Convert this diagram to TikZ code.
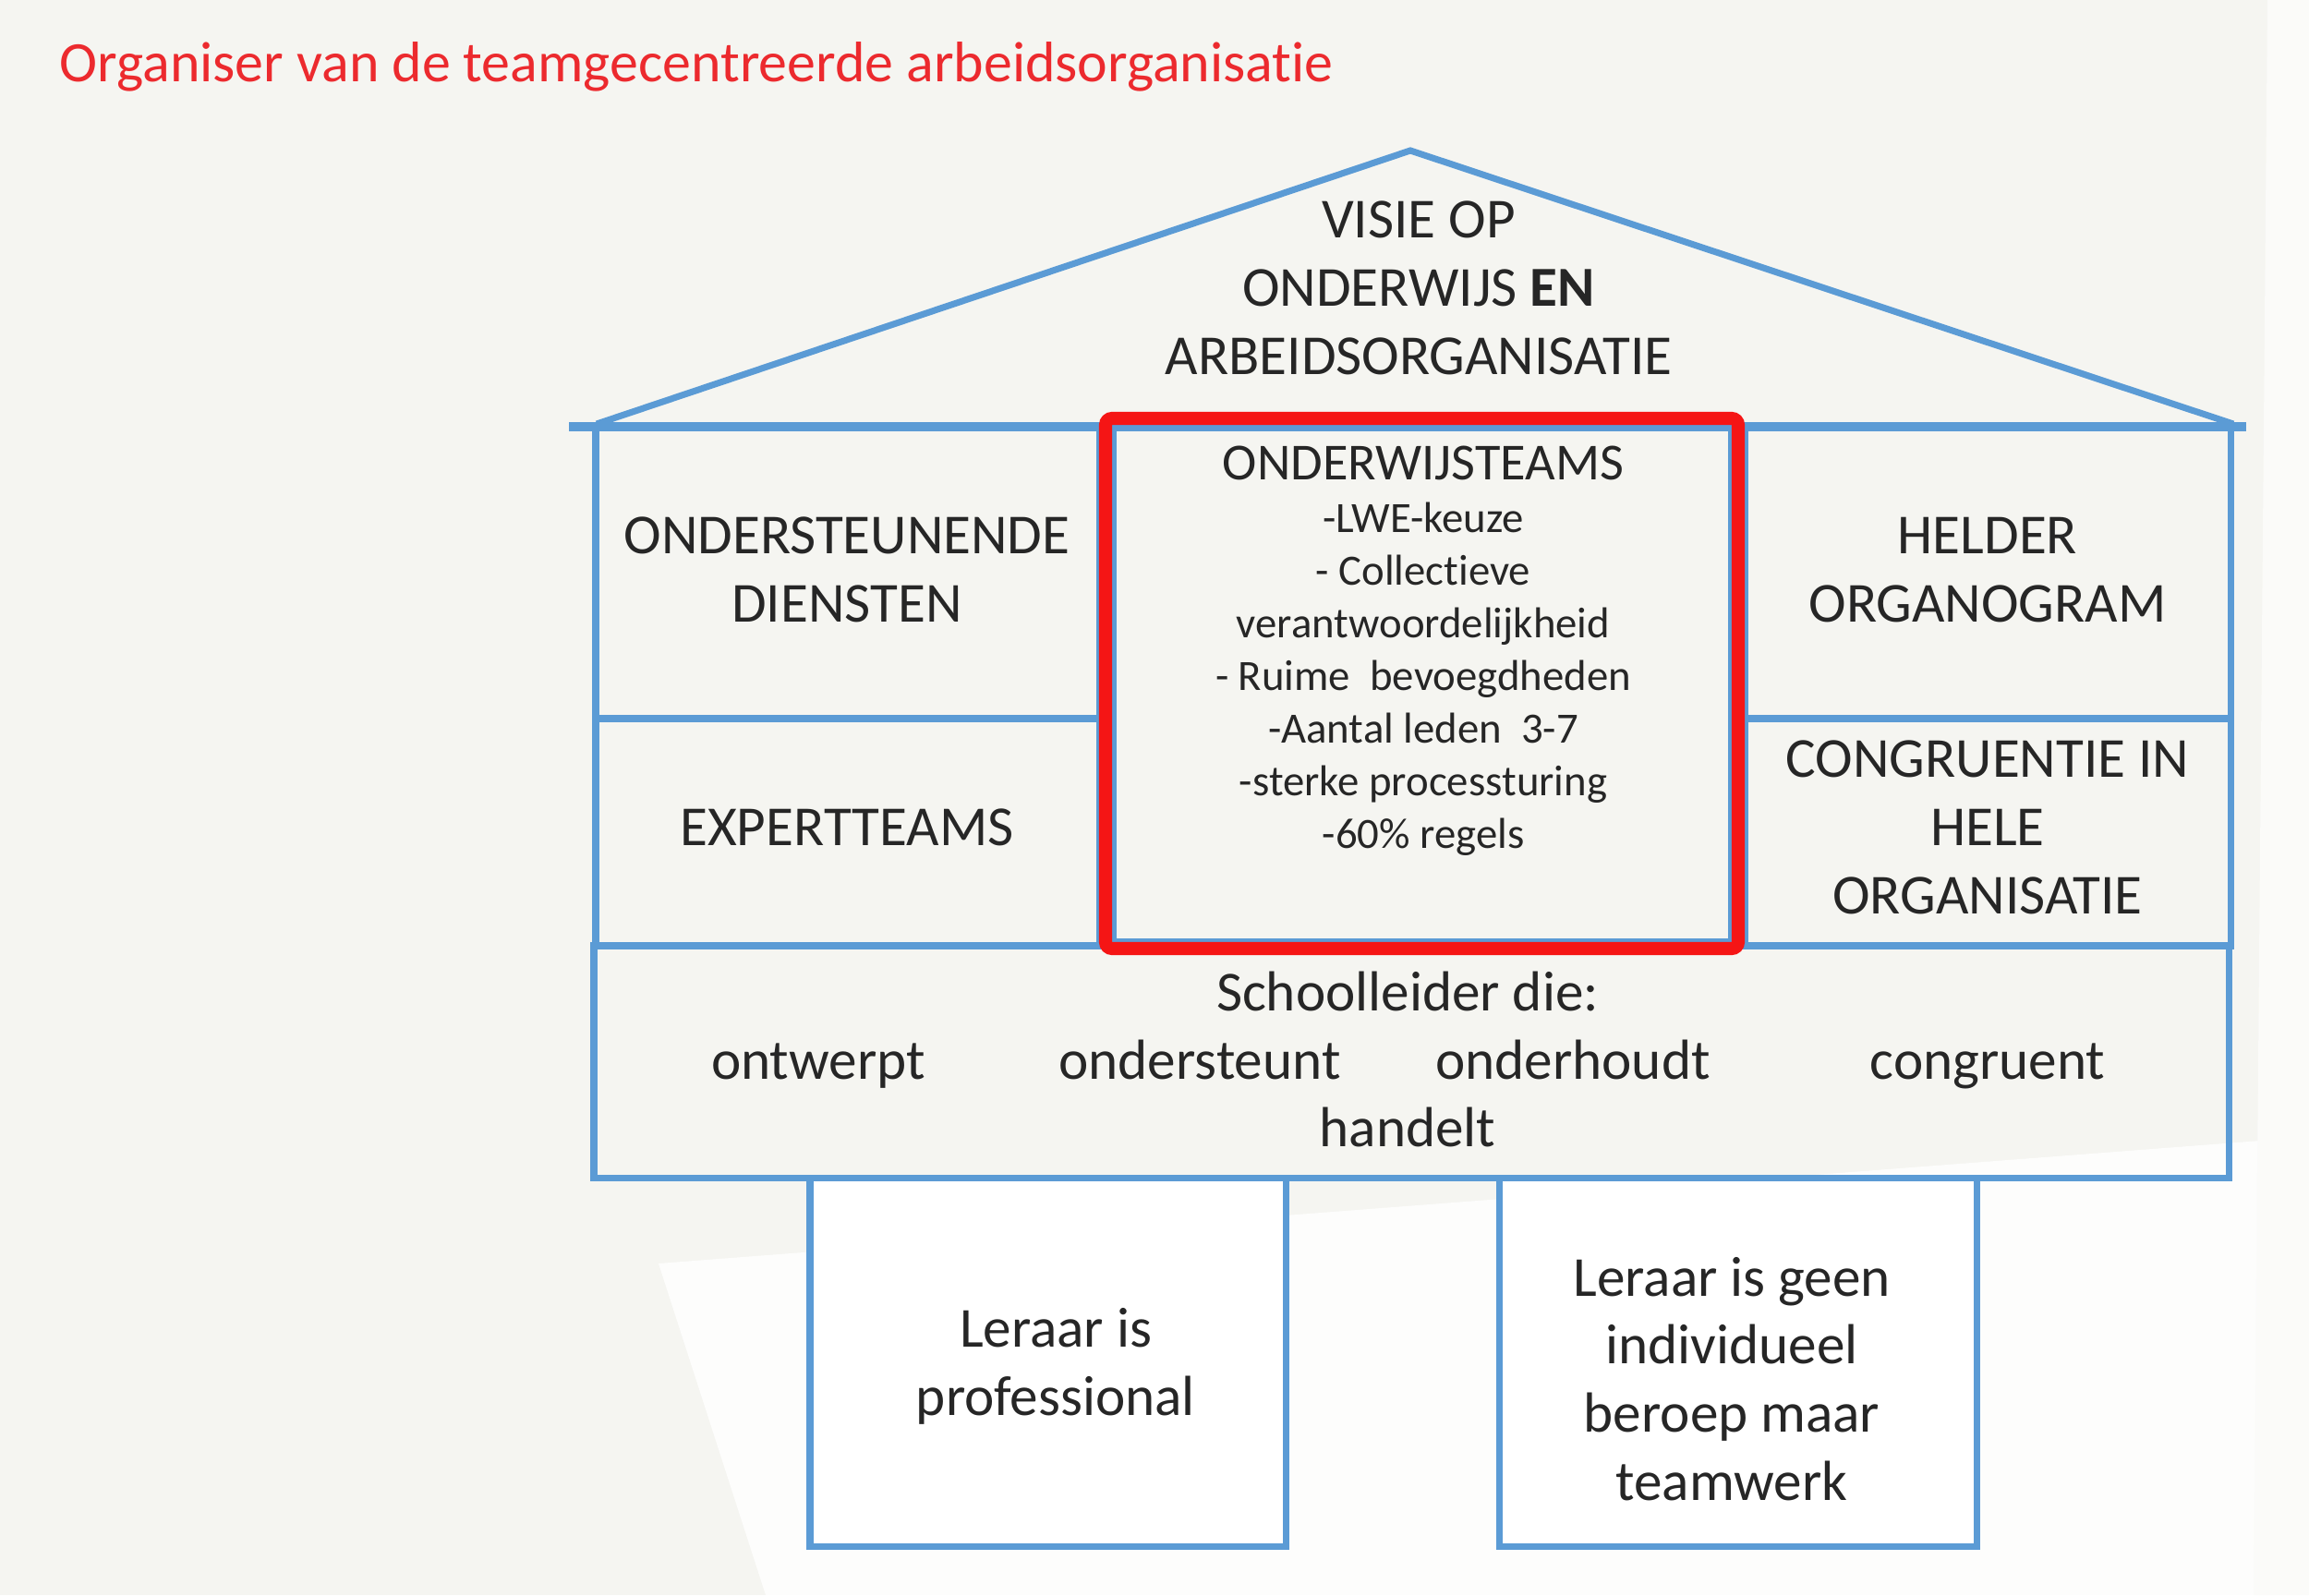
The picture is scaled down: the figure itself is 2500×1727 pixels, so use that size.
\documentclass[tikz,border=0pt]{standalone}
\usepackage{fontspec}
\setmainfont{Carlito}[Ligatures=NoCommon]
\definecolor{houseblue}{HTML}{5B9BD5}
\definecolor{boxred}{HTML}{F51515}
\definecolor{titlered}{HTML}{EC2A2E}
\definecolor{textgrey}{HTML}{262626}
\definecolor{paper}{HTML}{F5F5F1}

\begin{document}
\begin{tikzpicture}[x=0.01cm,y=-0.01cm,
	wall/.style={draw=houseblue,line width=2pt},
	lbl/.style={align=center,text=textgrey,inner sep=0pt,font=\fontsize{17.4}{21}\selectfont},
	lst/.style={lbl,font=\fontsize{13.3}{16.2}\selectfont}]
	\fill[paper] (0,0) rectangle (2500,1727);
	\useasboundingbox (0,0) rectangle (2500,1727);
	\fill[white!80!paper] (713,1368) -- (2500,1231) -- (2500,1727) -- (829,1727) -- cycle;
	\fill[white!60!paper] (2455,0) -- (2500,0) -- (2500,1727) -- (2440,1727) -- cycle;
	% title
	\node[anchor = base west,text=titlered,inner sep=0pt,font=\fontsize{17.6}{20}\selectfont]
		(title) at (64,88) {Organiser van de teamgecentreerde arbeidsorganisat\kern0pt ie};
	% pillars
	\filldraw[wall,fill=white] (877,1275) rectangle (1392,1674);
	\filldraw[wall,fill=white] (1623,1275) rectangle (2140,1674);
	% walls
	\draw[wall] (645,462) rectangle (1190,778);
	\draw[wall] (645,778) rectangle (1190,1024);
	\draw[wall] (1205,461) rectangle (1874,1020);
	\draw[wall] (1889,462) rectangle (2415,778);
	\draw[wall] (1889,778) rectangle (2415,1024);
	\draw[wall] (643,1024) rectangle (2413,1275);
	% roof
	\draw[wall,line join=miter] (646,459) -- (1527,163) -- (2418,459);
	\draw[houseblue,line width=3pt] (616,462) -- (2432,462);
	% red frame
	\draw[boxred,line width=4pt,rounded corners=2pt] (1197,453) rectangle (1882,1027);
	% texts
	\node[lbl] (visie) at (1536,312) {VISIE OP\\ONDERWIJS \textbf{EN}\\ARBEIDSORGANISATIE};
	\node[lbl] (diensten) at (917,617) {ONDERSTEUNENDE\\DIENSTEN};
	\node[lbl] (expert) at (917,896) {EXPERTTEAMS};
	\node[lbl] (helder) at (2152,617) {HELDER\\ORGANOGRAM};
	\node[lbl] (congr) at (2152,896) {CONGRUENTIE IN\\HELE\\ORGANISATIE};
	\node[lst,anchor = north] (teams) at (1541,482)
		{{\fontsize{16}{18}\selectfont ONDERWIJSTEAMS}\\
		-LWE-keuze\\- Collect\kern0pt ieve\\verantwoordelijkheid\\- Ruime\ \ bevoegdheden\\
		-Aantal leden\ \ 3-7\\-sterke processturing\\-60\% regels};
	\node[lbl,anchor = base] (leider) at (1524,1094) {Schoolleider die:};
	\node[lbl,anchor = base] (ontwerpt) at (886,1168) {ontwerpt};
	\node[lbl,anchor = base] (steunt) at (1299,1168) {ondersteunt};
	\node[lbl,anchor = base] (houdt) at (1703,1168) {onderhoudt};
	\node[lbl,anchor = base] (congruent) at (2152,1168) {congruent};
	\node[lbl,anchor = base] (handelt) at (1524,1241) {handelt};
	\node[lbl] (prof) at (1143,1479) {Leraar is\\professional};
	\node[lbl] (teamwerk) at (1875,1493) {Leraar is geen\\individueel\\beroep maar\\teamwerk};
\end{tikzpicture}
\end{document}
